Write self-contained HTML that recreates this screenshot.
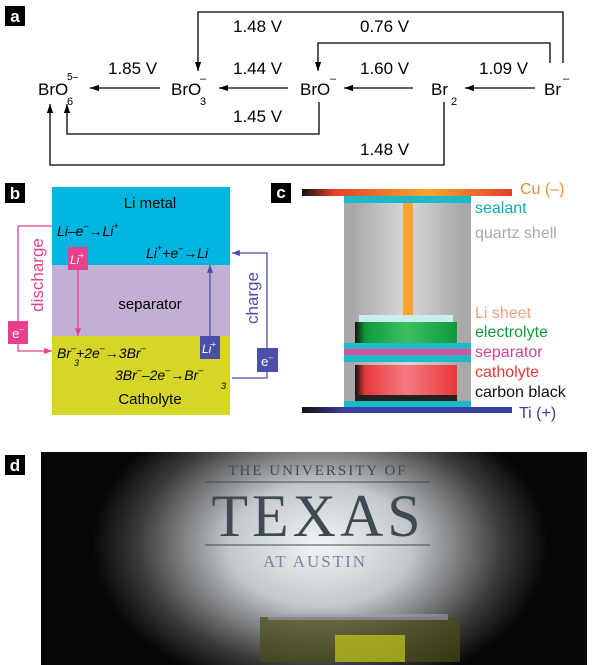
<!DOCTYPE html>
<html><head><meta charset="utf-8"><style>
html,body{margin:0;padding:0;background:#fff;}
svg{display:block;font-family:"Liberation Sans",sans-serif;}
</style></head><body>
<svg width="600" height="665" viewBox="0 0 600 665" xmlns="http://www.w3.org/2000/svg">
<defs>
<marker id="ah" viewBox="0 0 10 10" refX="10" refY="5" markerWidth="7" markerHeight="7" orient="auto-start-reverse"><path d="M0,1.5 L10,5 L0,8.5 z" fill="#000"/></marker>
<marker id="ap" viewBox="0 0 10 10" refX="10" refY="5" markerWidth="6" markerHeight="6" orient="auto"><path d="M0,1 L10,5 L0,9 z" fill="#e8418c"/></marker>
<marker id="ab" viewBox="0 0 10 10" refX="10" refY="5" markerWidth="6" markerHeight="6" orient="auto"><path d="M0,1 L10,5 L0,9 z" fill="#4a4fa8"/></marker>
<linearGradient id="cu" x1="0" x2="1"><stop offset="0" stop-color="#111"/><stop offset="0.15" stop-color="#e0402a"/><stop offset="0.6" stop-color="#f6a530"/><stop offset="1" stop-color="#e0402a"/></linearGradient>
<linearGradient id="ti" x1="0" x2="1"><stop offset="0" stop-color="#111"/><stop offset="0.2" stop-color="#3a3fa0"/><stop offset="1" stop-color="#3a3fa0"/></linearGradient>
<linearGradient id="gr" x1="0" x2="1"><stop offset="0" stop-color="#111"/><stop offset="0.1" stop-color="#0f9a3a"/><stop offset="0.5" stop-color="#3cc060"/><stop offset="1" stop-color="#0f9a3a"/></linearGradient>
<linearGradient id="rd" x1="0" x2="1"><stop offset="0" stop-color="#111"/><stop offset="0.1" stop-color="#e8383a"/><stop offset="0.5" stop-color="#f47a80"/><stop offset="1" stop-color="#e8383a"/></linearGradient>
<linearGradient id="qz" x1="0" x2="1"><stop offset="0" stop-color="#aaa"/><stop offset="0.5" stop-color="#d8d8d8"/><stop offset="1" stop-color="#aaa"/></linearGradient>
<radialGradient id="ph" gradientUnits="userSpaceOnUse" cx="320" cy="545" r="190" gradientTransform="translate(320 545) scale(1.2 0.8) translate(-320 -545)"><stop offset="0" stop-color="#f2f4f6"/><stop offset="0.4" stop-color="#c4c8cc"/><stop offset="0.8" stop-color="#3a3a3a"/><stop offset="1" stop-color="#060606"/></radialGradient>
</defs>
<!-- panel a -->
<rect x="5" y="6" width="20" height="20" fill="#000"/><text x="15" y="22" fill="#fff" font-size="17" font-weight="bold" text-anchor="middle">a</text>
<g font-size="17" fill="#000">
<text x="38" y="95">BrO</text><text x="67" y="80" font-size="10">5–</text><text x="67" y="105" font-size="11">6</text>
<text x="171" y="95">BrO</text><text x="200" y="82" font-size="11">–</text><text x="200" y="105" font-size="11">3</text>
<text x="300" y="95">BrO</text><text x="330" y="82" font-size="11">–</text>
<text x="431" y="95">Br</text><text x="451" y="105" font-size="11">2</text>
<text x="544" y="95">Br</text><text x="563" y="82" font-size="11">–</text>
<text x="108" y="74">1.85 V</text><text x="233" y="74">1.44 V</text><text x="360" y="74">1.60 V</text><text x="479" y="74">1.09 V</text>
<text x="233" y="32">1.48 V</text><text x="360" y="32">0.76 V</text>
<text x="233" y="122">1.45 V</text><text x="360" y="155">1.48 V</text>
</g>
<g stroke="#000" stroke-width="1.3" fill="none">
<line x1="160" y1="88" x2="90" y2="88" marker-end="url(#ah)"/>
<line x1="288" y1="88" x2="219" y2="88" marker-end="url(#ah)"/>
<line x1="413" y1="88" x2="344" y2="88" marker-end="url(#ah)"/>
<line x1="535" y1="88" x2="465" y2="88" marker-end="url(#ah)"/>
<polyline points="563,63 563,12 198,12 198,71" marker-end="url(#ah)"/>
<polyline points="550,63 550,43 318,43 318,71" marker-end="url(#ah)"/>
<polyline points="319,102 319,134 67,134 67,104" marker-end="url(#ah)"/>
<polyline points="444,102 444,165 50,165 50,104" marker-end="url(#ah)"/>
</g>
<!-- panel b -->
<rect x="5" y="183" width="20" height="20" fill="#000"/><text x="15" y="199" fill="#fff" font-size="17" font-weight="bold" text-anchor="middle">b</text>
<rect x="52" y="187" width="178" height="78" fill="#00b6e0"/>
<rect x="52" y="265" width="178" height="71" fill="#c3aed6"/>
<rect x="52" y="336" width="178" height="79" fill="#d6d629"/>
<g font-size="15" fill="#000">
<text x="150" y="208" text-anchor="middle">Li metal</text>
<text x="150" y="309" text-anchor="middle">separator</text>
<text x="150" y="404" text-anchor="middle">Catholyte</text>
<g font-style="italic" font-size="14">
<text x="57" y="236">Li–e<tspan dy="-7" font-size="9">–</tspan><tspan dy="7">→Li</tspan><tspan dy="-7" font-size="9">+</tspan></text>
<text x="146" y="258">Li<tspan dy="-7" font-size="9">+</tspan><tspan dy="7">+e</tspan><tspan dy="-7" font-size="9">–</tspan><tspan dy="7">→Li</tspan></text>
<text x="57" y="358">Br<tspan dy="-7" font-size="9">–</tspan><tspan dy="7">+2e</tspan><tspan dy="-7" font-size="9">–</tspan><tspan dy="7">→3Br</tspan><tspan dy="-7" font-size="9">–</tspan></text>
<text x="74" y="366" font-size="9">3</text>
<text x="115" y="380">3Br<tspan dy="-7" font-size="9">–</tspan><tspan dy="7">–2e</tspan><tspan dy="-7" font-size="9">–</tspan><tspan dy="7">→Br</tspan><tspan dy="-7" font-size="9">–</tspan></text>
<text x="221" y="389" font-size="9">3</text>
</g></g>
<g fill="none" stroke-width="1.3">
<polyline points="52,226 18,226 18,351 52,351" stroke="#e8418c" marker-end="url(#ap)"/>
<line x1="78" y1="270" x2="78" y2="336" stroke="#e8418c" marker-end="url(#ap)"/>
<line x1="210" y1="336" x2="210" y2="265" stroke="#4a4fa8" marker-end="url(#ab)"/>
<polyline points="232,378 267,378 267,253 232,253" stroke="#4a4fa8" marker-end="url(#ab)"/>
</g>
<text transform="translate(43,275) rotate(-90)" font-size="17" fill="#e8418c" text-anchor="middle">discharge</text>
<text transform="translate(258,298) rotate(-90)" font-size="17" fill="#4a4fa8" text-anchor="middle">charge</text>
<rect x="8" y="321" width="20" height="23" fill="#e8418c"/><text x="18" y="338" fill="#fff" font-size="13" text-anchor="middle">e<tspan dy="-6" font-size="8">–</tspan></text>
<rect x="68" y="247" width="20" height="23" fill="#e8418c"/><text x="77" y="264" fill="#fff" font-size="12" font-style="italic" text-anchor="middle">Li<tspan dy="-6" font-size="8">+</tspan></text>
<rect x="200" y="336" width="20" height="23" fill="#4a4fa8"/><text x="209" y="353" fill="#fff" font-size="12" font-style="italic" text-anchor="middle">Li<tspan dy="-6" font-size="8">+</tspan></text>
<rect x="257" y="348" width="21" height="24" fill="#4a4fa8"/><text x="267" y="366" fill="#fff" font-size="13" text-anchor="middle">e<tspan dy="-6" font-size="8">–</tspan></text>
<!-- panel c -->
<rect x="271" y="183" width="20" height="20" fill="#000"/><text x="281" y="198" fill="#fff" font-size="17" font-weight="bold" text-anchor="middle">c</text>
<rect x="302" y="189" width="210" height="7" fill="url(#cu)"/>
<rect x="344" y="196" width="127" height="211" fill="#a8a8a8"/>
<rect x="354" y="203" width="106" height="198" fill="url(#qz)"/>
<rect x="344" y="196" width="127" height="7" fill="#1fb8c8"/>
<rect x="403" y="203" width="10" height="112" fill="#f6a530"/>
<rect x="359" y="315" width="94" height="7" fill="#c8eef2"/>
<rect x="355" y="322" width="102" height="21" fill="url(#gr)"/>
<rect x="344" y="343" width="127" height="6" fill="#1fb8c8"/>
<rect x="344" y="349" width="127" height="6" fill="#d8509c"/>
<rect x="344" y="355" width="127" height="7" fill="#1fb8c8"/>
<rect x="355" y="365" width="102" height="30" fill="url(#rd)"/>
<rect x="355" y="395" width="102" height="6" fill="#222"/>
<rect x="344" y="401" width="127" height="6" fill="#1fb8c8"/>
<rect x="302" y="407" width="210" height="6" fill="url(#ti)"/>
<g font-size="16">
<text x="520" y="194" fill="#f08a30">Cu (–)</text>
<text x="475" y="213" fill="#12a8b8">sealant</text>
<text x="475" y="238" fill="#aaa">quartz shell</text>
<text x="475" y="318" fill="#f0a080">Li sheet</text>
<text x="475" y="337" fill="#0f9a3a">electrolyte</text>
<text x="475" y="357" fill="#d040a0">separator</text>
<text x="475" y="377" fill="#e8383a">catholyte</text>
<text x="475" y="397" fill="#111">carbon black</text>
<text x="519" y="418" fill="#3a3fa0">Ti (+)</text>
</g>
<!-- panel d -->
<rect x="5" y="455" width="20" height="20" fill="#000"/><text x="15" y="471" fill="#fff" font-size="17" font-weight="bold" text-anchor="middle">d</text>
<rect x="41" y="452" width="546" height="213" fill="#060606"/>
<rect x="41" y="452" width="546" height="213" fill="url(#ph)"/>
<g font-family="'Liberation Serif',serif" fill="#3e4c50" text-anchor="middle">
<text x="318" y="475" font-size="15" letter-spacing="2">THE UNIVERSITY OF</text>
<line x1="205" y1="482" x2="430" y2="482" stroke="#3e4c50"/>
<text x="318" y="536" font-size="60" letter-spacing="4">TEXAS</text>
<line x1="205" y1="545" x2="430" y2="545" stroke="#3e4c50"/>
<text x="315" y="567" font-size="17" letter-spacing="2" fill="#7a86a0">AT AUSTIN</text>
</g>
<rect x="260" y="617" width="200" height="45" fill="#4a4a18" opacity="0.7"/>
<rect x="335" y="635" width="70" height="27" fill="#c8c820" opacity="0.7"/>
<rect x="268" y="614" width="180" height="6" fill="#9aa0b0" opacity="0.6"/>
</svg>
</body></html>
